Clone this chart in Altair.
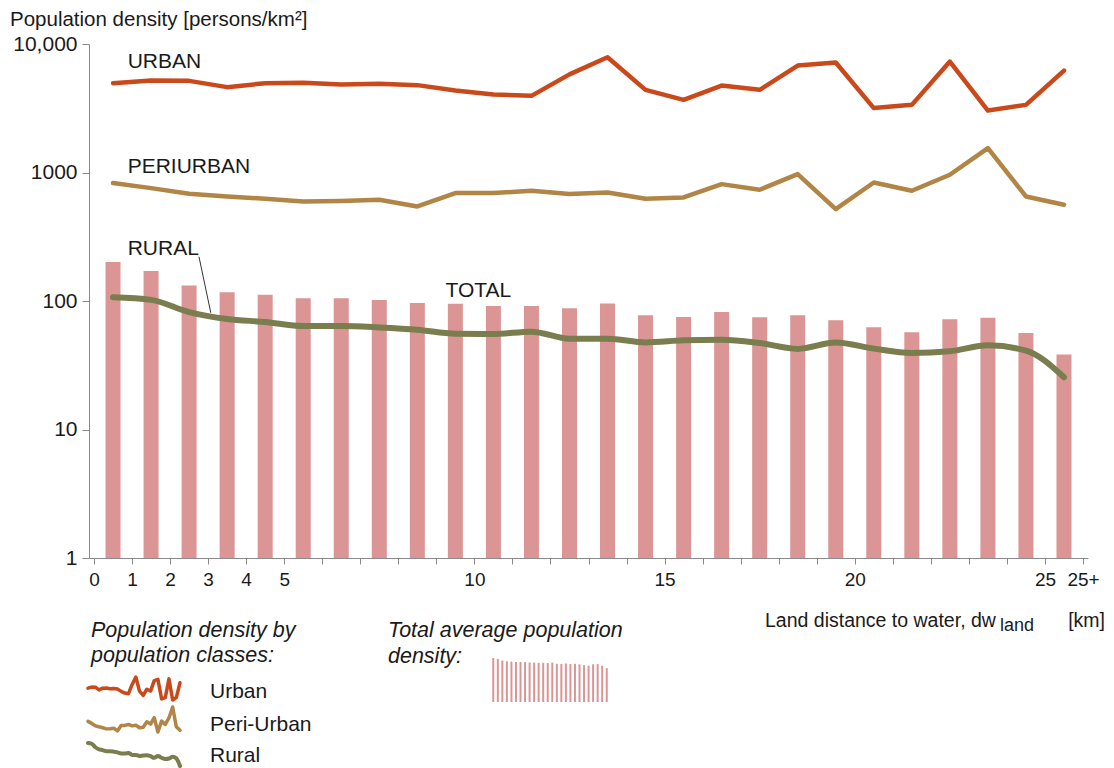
import altair as alt
import pandas as pd

# ---------------- data ----------------
distance_bins = list(range(26))  # 0-1, 1-2, ..., 24-25, 25+
total_density = [201, 171, 132, 117, 112, 105, 105, 102, 96.5, 95.3, 91.4, 91.4, 87.7,
                 95.5, 77.4, 75.2, 82.2, 74.6, 77.4, 70.7, 62.4, 57.0, 72.0, 74.2, 56.4, 38.4]
urban_density = [4955, 5190, 5165, 4615, 4955, 4985, 4835, 4895, 4785, 4345, 4045, 3950, 5800,
                 7890, 4396, 3675, 4750, 4400, 6795, 7170, 3170, 3360, 7300, 3035, 3360, 6210]
periurban_density = [827, 756, 683, 651, 625, 595, 600, 614, 544, 692, 692, 721, 679,
                     699, 624, 639, 812, 734, 972, 519, 836, 721, 960, 1549, 651, 561]
rural_density = [107, 102, 82, 72.4, 68.7, 63.9, 63.9, 62.3, 59.8, 55.7, 55.4, 57.7, 50.9,
                 50.9, 47.6, 49.4, 50.0, 47.1, 42.4, 47.6, 42.6, 39.4, 40.6, 45.2, 41.1, 25.5]

x_tick_values = list(range(27))
x_tick_labels = ["0", "1", "2", "3", "4", "5", "", "", "", "", "10", "", "", "", "", "15",
                 "", "", "", "", "20", "", "", "", "", "25", "25+"]
y_tick_values = [1, 10, 100, 1000, 10000]
y_tick_labels = ["1", "10", "100", "1000", "10,000"]

series_labels = ["URBAN", "PERIURBAN", "RURAL", "TOTAL"]
series_label_x = [0.885, 0.885, 0.885, 9.24]
series_label_y = [6520, 990, 229, 108]
leader_from = (2.76, 221)
leader_to = (3.07, 81)

y_title = "Population density [persons/km²]"
x_title_parts = ["Land distance to water, dw", "land", "[km]"]
legend_heading_classes = ["Population density by", "population classes:"]
legend_heading_total = ["Total average population", "density:"]
legend_items = ["Urban", "Peri-Urban", "Rural"]

# ---------------- style ----------------
FONT = "Liberation Sans, Arial, sans-serif"
TXT = "#1a1a1a"
AXC = "#8a8a8a"
C_URBAN = "#C9491B"
C_PERI = "#B08546"
C_RURAL = "#7A7D4E"
C_BAR = "#DB9595"
W, H = 999, 514

df = pd.DataFrame({
    "bin": distance_bins,
    "total": total_density,
    "urban": urban_density,
    "peri": periurban_density,
    "rural": rural_density,
})
df["mid"] = df["bin"] + 0.5

x_expr = " : ".join(f"datum.value == {v} ? '{l}'" for v, l in zip(x_tick_values, x_tick_labels)) + " : ''"
y_expr = " : ".join(f"datum.value == {v} ? '{l}'" for v, l in zip(y_tick_values, y_tick_labels)) + " : ''"

x_scale = alt.Scale(domain=[0, 26], nice=False, zero=False)
y_scale = alt.Scale(type="log", domain=[1, 10000], nice=False)
x_axis = alt.Axis(values=x_tick_values, labelExpr=x_expr, title=None, grid=False,
                  domainColor=AXC, tickColor=AXC, tickSize=6, labelPadding=6,
                  labelFont=FONT, labelFontSize=19, labelColor=TXT, labelBaseline="top",
                  labelFlush=False, labelOverlap=False, labelBound=False)
y_axis = alt.Axis(values=y_tick_values, labelExpr=y_expr, title=None, grid=False,
                  domainColor=AXC, tickColor=AXC, tickSize=7, labelPadding=5,
                  labelFont=FONT, labelFontSize=21, labelColor=TXT,
                  labelFlush=False, labelOverlap=False, labelBound=False)


def X(field="mid"):
    return alt.X(f"{field}:Q", scale=x_scale, axis=x_axis)


def Y(field):
    return alt.Y(f"{field}:Q", scale=y_scale, axis=y_axis)


base = alt.Chart(df)
bars = base.mark_bar(size=15, color=C_BAR).encode(x=X(), y=Y("total"), y2=alt.datum(1))
urban_line = base.mark_line(color=C_URBAN, strokeWidth=4.5, strokeJoin="round", strokeCap="round").encode(
    x=X(), y=Y("urban"))
peri_line = base.mark_line(color=C_PERI, strokeWidth=4.5, strokeJoin="round", strokeCap="round").encode(
    x=X(), y=Y("peri"))
rural_line = base.mark_line(color=C_RURAL, strokeWidth=6, interpolate="monotone",
                            strokeJoin="round", strokeCap="round").encode(x=X(), y=Y("rural"))

ann_df = pd.DataFrame({"label": series_labels, "x": series_label_x, "y": series_label_y})
ann = alt.Chart(ann_df).mark_text(align="left", baseline="alphabetic", font=FONT, fontSize=21,
                                  color=TXT).encode(x=X("x"), y=Y("y"), text="label:N")
leader_df = pd.DataFrame({"x1": [leader_from[0]], "y1": [leader_from[1]],
                          "x2": [leader_to[0]], "y2": [leader_to[1]]})
leader = alt.Chart(leader_df).mark_rule(color="#333333", strokeWidth=1).encode(
    x=X("x1"), y=Y("y1"), x2="x2:Q", y2="y2:Q")

main = alt.layer(bars, urban_line, peri_line, rural_line, ann, leader)


# ---------------- legend icons (miniatures of the same series) ----------------
def icon_line(field, color, width, ydom, yr, interp="linear"):
    return base.mark_line(color=color, strokeWidth=width, interpolate=interp,
                          strokeJoin="round", strokeCap="round").encode(
        x=alt.X("mid:Q", scale=alt.Scale(domain=[0.5, 25.5], range=[-1, 91], nice=False, zero=False), axis=None),
        y=alt.Y(f"{field}:Q", scale=alt.Scale(type="log", domain=ydom, range=yr, nice=False), axis=None))


icon_u = icon_line("urban", C_URBAN, 3.5, [3035, 7890], [656, 633])
icon_p = icon_line("peri", C_PERI, 3.5, [519, 1549], [688, 663])
icon_r = icon_line("rural", C_RURAL, 4, [25.5, 107], [722, 699], "monotone")
icon_b = base.mark_bar(size=2, color=C_BAR).encode(
    x=alt.X("mid:Q", scale=alt.Scale(domain=[0, 26], range=[397, 525], nice=False, zero=False), axis=None),
    y=alt.Y("total:Q", scale=alt.Scale(type="log", domain=[0.15, 201], range=[658, 614], nice=False), axis=None),
    y2=alt.datum(0.15))


# ---------------- free texts outside the plot ----------------
def free_text(txt, px, py, size=21, italic=False, align="left", font=FONT):
    return alt.Chart(pd.DataFrame({"t": [txt]})).mark_text(
        align=align, baseline="alphabetic", font=font, fontSize=size, color=TXT,
        fontStyle="italic" if italic else "normal").encode(
        x=alt.value(px), y=alt.value(py), text="t:N")


texts = [
    free_text(y_title, -79, -18, size=20.5),
    free_text(x_title_parts[0], 676, 583, size=19.5),
    free_text(x_title_parts[1], 911, 587, size=18),
    free_text(x_title_parts[2], 1016, 583, size=19.5, align="right"),
    free_text(legend_heading_classes[0], 2, 593, size=21.5, italic=True),
    free_text(legend_heading_classes[1], 2, 618, size=21.5, italic=True),
    free_text(legend_heading_total[0], 299, 593, size=21.5, italic=True),
    free_text(legend_heading_total[1], 299, 619, size=21.5, italic=True),
    free_text(legend_items[0], 121, 654, size=21),
    free_text(legend_items[1], 121, 687, size=21),
    free_text(legend_items[2], 121, 718, size=21),
]

chart = alt.layer(main, icon_u, icon_p, icon_r, icon_b, *texts).resolve_scale(
    x="independent", y="independent"
).properties(
    width=W, height=H,
    autosize=alt.AutoSizeParams(type="none"),
    padding={"left": 81, "top": 36, "right": 17, "bottom": 210},
).configure_view(stroke=None)

chart.save("out.html", embed_options={"renderer": "svg", "actions": False})
